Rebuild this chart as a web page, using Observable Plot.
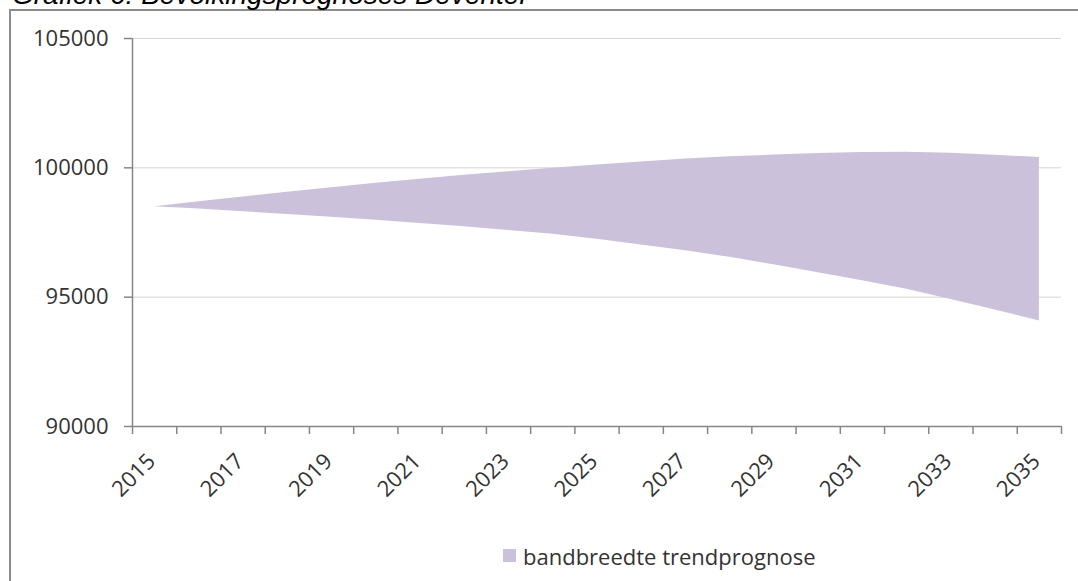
<!DOCTYPE html>
<html>
<head>
<meta charset="utf-8">
<script src="https://cdn.jsdelivr.net/npm/d3@7"></script>
<script src="https://cdn.jsdelivr.net/npm/@observablehq/plot@0.6"></script>
<style>
  html, body { margin: 0; padding: 0; background: #fff; }
  #wrap { position: relative; width: 1078px; height: 581px; overflow: hidden; background: #fff; }
  #title { position: absolute; left: 12px; top: -19px; font-family: "Liberation Sans", Arial, sans-serif; font-style: italic; font-size: 28px; line-height: 28px; color: #000; white-space: nowrap; }
  #frame { position: absolute; left: 9px; top: 9px; width: 1100px; height: 600px; border-left: 2px solid #8c8c8c; border-top: 2px solid #8c8c8c; }
  #chart { position: absolute; left: 0; top: 0; }
  #legend { position: absolute; left: 503px; top: 545px; font-family: "Open Sans", sans-serif; font-size: 22px; line-height: 22px; color: #333; white-space: nowrap; }
  #legend .sw { position: absolute; left: 0; top: 4px; width: 13px; height: 13px; background: #ccc1da; }
  #legend .lab { position: absolute; left: 20px; top: 0; }
</style>
</head>
<body>
<div id="wrap">
  <div id="frame"></div>
  <div id="title">Grafiek 6: Bevolkingsprognoses Deventer</div>
  <div id="chart"></div>
  <div id="legend"><span class="sw"></span><span class="lab">bandbreedte trendprognose</span></div>
</div>
<script>
const years = [2015, 2016, 2017, 2018, 2019, 2020, 2021, 2022, 2023, 2024, 2025,
               2026, 2027, 2028, 2029, 2030, 2031, 2032, 2033, 2034, 2035];
const upperBound = [98500, 98690, 98875, 99055, 99230, 99400, 99560, 99710, 99850, 99985, 100110,
                    100230, 100340, 100430, 100495, 100555, 100595, 100605, 100560, 100490, 100400];
const lowerBound = [98500, 98405, 98305, 98200, 98090, 97975, 97850, 97720, 97580, 97430, 97240,
                    97020, 96790, 96540, 96250, 95945, 95630, 95310, 94910, 94500, 94080];
const yTicks = [90000, 95000, 100000, 105000];
const gridValues = [95000, 100000, 105000];
const xLabels = [2015, 2017, 2019, 2021, 2023, 2025, 2027, 2029, 2031, 2033, 2035];

// category boundaries (ticks between categories)
const boundaries = years.map(y => y - 0.5).concat([years[years.length - 1] + 0.5]);
const idx = years.map((d, i) => i);

const chart = Plot.plot({
  width: 1078,
  height: 480,
  marginLeft: 132,
  marginRight: 17,
  marginTop: 38,
  marginBottom: 54,
  x: {domain: [boundaries[0], boundaries[boundaries.length - 1]], axis: null},
  y: {domain: [yTicks[0], yTicks[yTicks.length - 1]], axis: null},
  style: {fontFamily: "'Open Sans', sans-serif", fontSize: "22px", color: "#333", background: "transparent", overflow: "visible"},
  marks: [
    Plot.gridY(gridValues, {stroke: "#d4d4d4", strokeOpacity: 1, strokeWidth: 1}),
    Plot.areaY(idx, {x: i => years[i], y1: i => lowerBound[i], y2: i => upperBound[i], fill: "#ccc1da"}),
    Plot.ruleX([boundaries[0]], {y1: yTicks[0], y2: yTicks[yTicks.length - 1], stroke: "#868686", strokeWidth: 1.5}),
    Plot.ruleY([yTicks[0]], {stroke: "#868686", strokeWidth: 1.5}),
    Plot.axisY(yTicks, {tickSize: 8, tickPadding: 16, stroke: "#868686", strokeWidth: 1.5, fill: "#333", fontSize: 22, tickFormat: d => String(d)}),
    Plot.axisX(boundaries, {tickSize: 8, stroke: "#868686", strokeWidth: 1.5, tickFormat: () => ""}),
    Plot.text(xLabels, {x: d => d, y: () => yTicks[0], text: d => String(d), rotate: -45, textAnchor: "end", lineAnchor: "middle", dx: -3, dy: 31, fill: "#333", fontSize: 22})
  ]
});
document.getElementById("chart").appendChild(chart);
</script>
</body>
</html>
